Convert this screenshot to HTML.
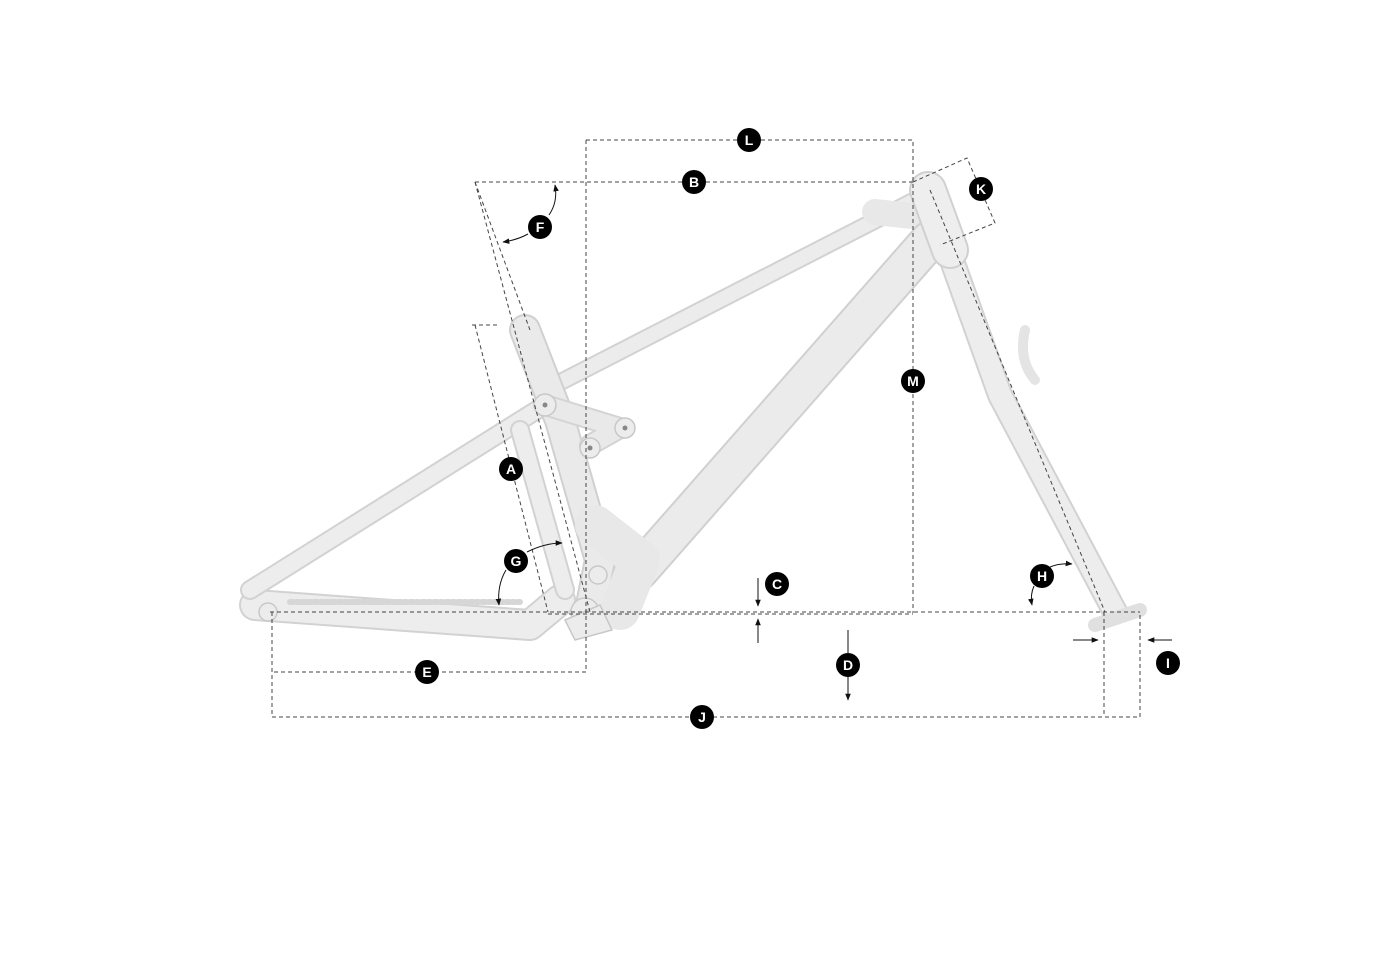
<!DOCTYPE html>
<html><head><meta charset="utf-8"><style>
html,body{margin:0;padding:0;background:#fff;}
svg{display:block}
text{font-family:"Liberation Sans",sans-serif;font-weight:bold;font-size:14px;fill:#fff;text-anchor:middle}
</style></head><body>
<svg width="1400" height="966" viewBox="0 0 1400 966" xmlns="http://www.w3.org/2000/svg">
<defs>
<marker id="ar" viewBox="0 0 10 10" refX="9" refY="5" markerWidth="7" markerHeight="7" orient="auto-start-reverse"><path d="M0,1 L10,5 L0,9 z" fill="#111"/></marker>
</defs>
<g stroke-linecap="round" stroke-linejoin="round" fill="none">
<!-- fork -->
<path d="M950,255 L1000,395 L1115,612" stroke="#d2d2d2" stroke-width="26"/>
<path d="M950,255 L1000,395 L1115,612" stroke="#ededed" stroke-width="22"/>
<path d="M1025,330 Q1018,360 1035,380" stroke="#e4e4e4" stroke-width="10"/>
<path d="M1095,625 L1140,610" stroke="#e0e0e0" stroke-width="14"/>
<!-- chainstay -->
<path d="M255,605 L530,625 L560,600" stroke="#d2d2d2" stroke-width="32"/>
<path d="M255,605 L530,625 L560,600" stroke="#ededed" stroke-width="28"/>
<path d="M290,602 L520,602" stroke="#d6d6d6" stroke-width="6" stroke-dasharray="3 3"/>
<!-- seat stay -->
<path d="M250,590 L545,405" stroke="#d2d2d2" stroke-width="20"/>
<path d="M250,590 L545,405" stroke="#ededed" stroke-width="16"/>
<path d="M520,430 L565,590" stroke="#d2d2d2" stroke-width="20"/>
<path d="M520,430 L565,590" stroke="#ededed" stroke-width="16"/>
<!-- top tube -->
<path d="M545,390 L915,200" stroke="#d2d2d2" stroke-width="18"/>
<path d="M545,390 L915,200" stroke="#ececec" stroke-width="14"/>
<path d="M875,212 L930,218" stroke="#e8e8e8" stroke-width="26"/>
<!-- down tube -->
<path d="M930,240 L640,570 L600,610" stroke="#d0d0d0" stroke-width="40"/>
<path d="M930,240 L640,570 L600,610" stroke="#ebebeb" stroke-width="36"/>
<!-- seat tube -->
<path d="M525,330 L560,420 L600,560 L590,610" stroke="#d0d0d0" stroke-width="32"/>
<path d="M525,330 L560,420 L600,560 L590,610" stroke="#eaeaea" stroke-width="28"/>
<path d="M595,525 L640,560 L620,610" stroke="#e8e8e8" stroke-width="40"/>
<!-- head tube -->
<path d="M928,190 L950,250" stroke="#d0d0d0" stroke-width="38"/>
<path d="M928,190 L950,250" stroke="#eeeeee" stroke-width="34"/>
<!-- rocker -->
<path d="M545,405 L620,428 L590,445" stroke="#d4d4d4" stroke-width="22"/>
<path d="M545,405 L620,428 L590,445" stroke="#e9e9e9" stroke-width="18"/>
</g>
<g fill="#ececec" stroke="#c8c8c8" stroke-width="1.5">
<circle cx="545" cy="405" r="11"/><circle cx="625" cy="428" r="10"/><circle cx="590" cy="448" r="10"/>
<circle cx="585" cy="612" r="14"/><circle cx="598" cy="575" r="9"/><circle cx="268" cy="612" r="9"/>
<path d="M565,620 L600,605 L612,630 L575,640 z"/>
</g>
<g fill="#888"><circle cx="545" cy="405" r="2.5"/><circle cx="625" cy="428" r="2.5"/><circle cx="590" cy="448" r="2.5"/></g>
<g stroke="#444" stroke-width="1" stroke-dasharray="4 3" fill="none">
<path d="M586,140 H913 V613"/>
<path d="M586,140 V672 H272"/>
<path d="M475,182 H913"/>
<path d="M270,612 H1140"/>
<path d="M548,614 H913"/>
<path d="M272,612 V717 H1140 V612"/>
<path d="M1104,612 V717"/>
<path d="M913,182 L967,158 L995,223 L940,245"/>
<path d="M475,182 L590,612"/>
<path d="M475,182 L530,330"/>
<path d="M472,325 H500"/>
<path d="M475,325 L548,612"/>
<path d="M930,190 L1105,612"/>
</g>
<g stroke="#111" stroke-width="1" fill="none" marker-end="url(#ar)">
<path d="M758,578 V606"/><path d="M758,643 V619"/>
<path d="M848,630 V700"/>
<path d="M1073,640 H1098"/><path d="M1172,640 H1148"/>
<path d="M528,234 Q517,240 503,242"/><path d="M549,215 Q558,202 555,185"/>
<path d="M506,570 Q497,585 499,605"/><path d="M527,552 Q545,543 562,543"/>
<path d="M1034,586 Q1030,595 1032,605"/><path d="M1050,567 Q1060,563 1072,564"/>
</g>
<g>
<g fill="#000">
<circle cx="749" cy="140" r="12"/><circle cx="694" cy="182" r="12"/><circle cx="981" cy="189" r="12"/>
<circle cx="540" cy="227" r="12"/><circle cx="913" cy="381" r="12"/><circle cx="511" cy="469" r="12"/>
<circle cx="516" cy="561" r="12"/><circle cx="777" cy="584" r="12"/><circle cx="848" cy="665" r="12"/>
<circle cx="1042" cy="576" r="12"/><circle cx="1168" cy="663" r="12"/><circle cx="427" cy="672" r="12"/>
<circle cx="702" cy="717" r="12"/>
</g>
<text x="749" y="145">L</text><text x="694" y="187">B</text><text x="981" y="194">K</text>
<text x="540" y="232">F</text><text x="913" y="386">M</text><text x="511" y="474">A</text>
<text x="516" y="566">G</text><text x="777" y="589">C</text><text x="848" y="670">D</text>
<text x="1042" y="581">H</text><text x="1168" y="668">I</text><text x="427" y="677">E</text>
<text x="702" y="722">J</text>
</g>
</svg>
</body></html>
